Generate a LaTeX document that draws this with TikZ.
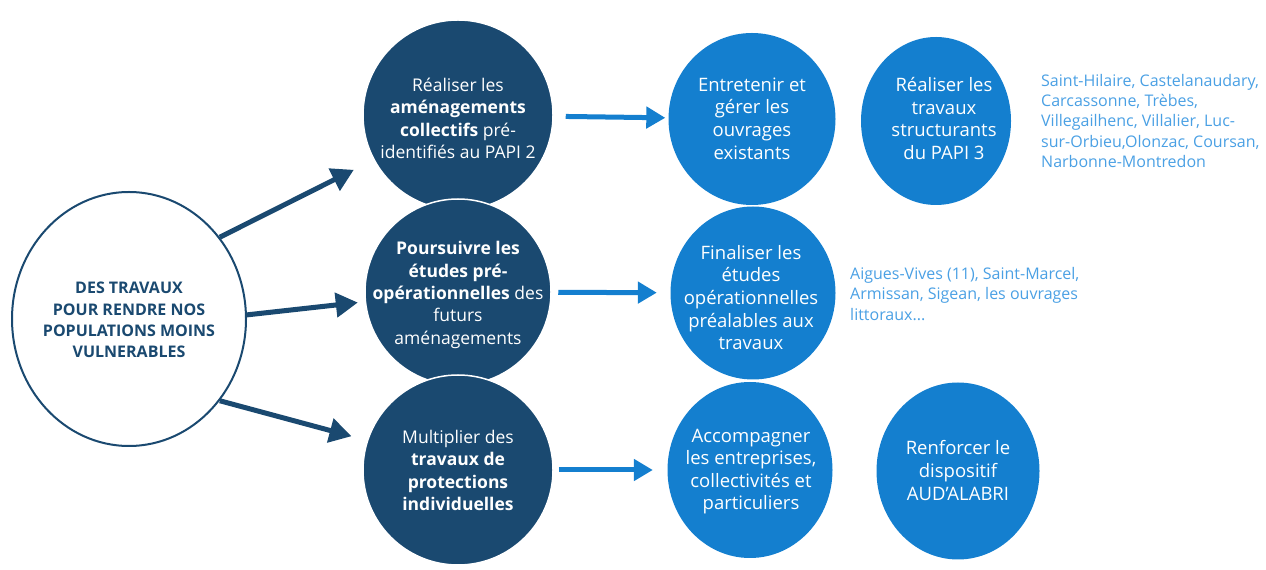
\documentclass[tikz,border=0pt]{standalone}
\usepackage{fontspec}
\setmainfont{Open Sans}
\usetikzlibrary{arrows.meta,shapes.geometric}
\definecolor{darkblue}{RGB}{26,73,112}
\definecolor{midblue}{RGB}{20,127,207}
\definecolor{listblue}{RGB}{74,160,228}
\begin{document}
\begin{tikzpicture}[x=1pt,y=1pt,
  bigcircle/.style={ellipse,draw=darkblue,line width=2pt,fill=white,minimum width=234pt,minimum height=254pt},
  darkcircle/.style={circle,fill=darkblue,draw=white,line width=1.5pt,inner sep=0pt},
  lightcircle/.style={ellipse,fill=midblue,inner sep=0pt},
  circletext/.style={text=white,align=center,inner sep=0pt,font=\fontsize{17.5}{22.3}\selectfont},
  lighttext/.style={circletext,font=\fontsize{18.5}{22.6}\selectfont},
  bigtext/.style={text=darkblue,align=center,inner sep=0pt,font=\bfseries\fontsize{16}{21.3}\selectfont},
  placelist/.style={text=listblue,align=left,inner sep=0pt,anchor=west,font=\fontsize{16}{20.2}\selectfont},
  darkarrow/.style={draw=darkblue,line width=5pt,-{Triangle[length=22pt,width=24pt]}},
  lightarrow/.style={draw=midblue,line width=5pt,-{Triangle[length=19pt,width=21pt]}}]
\useasboundingbox (0,0) rectangle (1266,570);

% left circle
\node[bigcircle] (big) at (129,251) {};

% dark circles, drawn top to bottom
\node[darkcircle,minimum size=190pt] (dtop) at (458,455) {};
\node[darkcircle,minimum size=186pt] (dmid) at (458,278) {};
\node[darkcircle,minimum size=190pt] (dbot) at (458,100) {};

% light circles
\node[lightcircle,minimum width=167pt,minimum height=172pt] (ltop) at (752,451) {};
\node[lightcircle,minimum width=150pt,minimum height=168pt] (rtop) at (936,449) {};
\node[lightcircle,minimum width=165pt,minimum height=173pt] (lmid) at (753,277) {};
\node[lightcircle,minimum width=165pt,minimum height=176pt] (lbot) at (750,100) {};
\node[lightcircle,minimum width=163pt,minimum height=177pt] (rbot) at (958,99) {};

% texts
\node[bigtext] (bigtxt) at (129,250) {DES TRAVAUX\\POUR RENDRE NOS\\POPULATIONS MOINS\\VULNERABLES};
\node[circletext] (dtoptxt) at (458,451.5) {Réaliser les\\\textbf{aménagements}\\\textbf{collectifs} pré-\\identifiés au PAPI 2};
\node[circletext] (dmidtxt) at (458,275) {\textbf{Poursuivre les}\\\textbf{études pré-}\\\textbf{opérationnelles} des\\futurs\\aménagements};
\node[circletext] (dbottxt) at (458,99.5) {Multiplier des\\\textbf{travaux de}\\\textbf{protections}\\\textbf{individuelles}};
\node[lighttext] (ltoptxt) at (752,451.5) {Entretenir et\\gérer les\\ouvrages\\existants};
\node[lighttext] (rtoptxt) at (944,451.5) {Réaliser les\\travaux\\structurants\\du PAPI 3};
\node[lighttext] (lmidtxt) at (751,272.5) {Finaliser les\\études\\opérationnelles\\préalables aux\\travaux};
\node[lighttext] (lbottxt) at (751,98.5) {Accompagner\\les entreprises,\\collectivités et\\particuliers};
\node[lighttext] (rbottxt) at (958,99.5) {Renforcer le\\dispositif\\AUD'ALABRI};

\node[placelist] (toplist) at (1041,449) {Saint-Hilaire, Castelanaudary,\\Carcassonne, Trèbes,\\Villegailhenc, Villalier, Luc-\\sur-Orbieu,Olonzac, Coursan,\\Narbonne-Montredon};
\node[placelist] (midlist) at (850,276) {Aigues-Vives (11), Saint-Marcel,\\Armissan, Sigean, les ouvrages\\littoraux...};

% arrows
\draw[darkarrow,shorten >=22pt] (big.42) -- (dtop.208.5);
\draw[darkarrow,shorten >=7pt] (big.2.5) -- (dmid.186);
\draw[darkarrow,shorten >=16pt] (big.-42) -- (dbot.162);
\draw[lightarrow,shorten <=12pt,shorten >=3pt] (dtop) -- (ltop);
\draw[lightarrow,shorten <=6.5pt,shorten >=13.5pt] (dmid) -- (lmid);
\draw[lightarrow,shorten <=5pt,shorten >=14.5pt] (dbot) -- (lbot);
\end{tikzpicture}
\end{document}
